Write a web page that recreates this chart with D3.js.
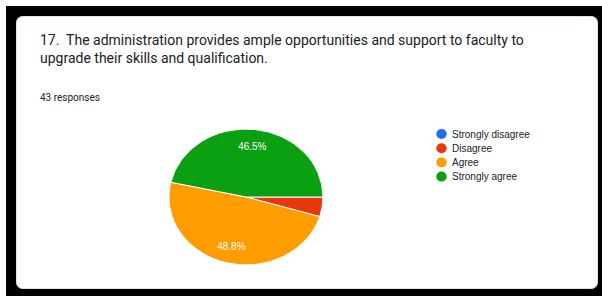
<!DOCTYPE html>
<html>
<head>
<meta charset="utf-8">
<script src="https://cdn.jsdelivr.net/npm/d3@7"></script>
<style>
  html, body { margin: 0; padding: 0; background: #fff; }
  svg { display: block; }
  text { white-space: pre; }
</style>
</head>
<body>
<svg id="chart" width="602" height="296"></svg>
<script>
const categories = ["Strongly disagree", "Disagree", "Agree", "Strongly agree"];
const counts = [0, 2, 21, 20];
const colors = ["#1f6ff0", "#e8380e", "#ff9c00", "#0b9f12"];
const titleLines = [
  "17.  The administration provides ample opportunities and support to faculty to",
  "upgrade their skills and qualification."
];
const responsesLabel = "43 responses";

const svg = d3.select("#chart");

// outer black frame and card
svg.append("rect").attr("x", 6).attr("y", 6).attr("width", 596).attr("height", 290).attr("fill", "#000");
svg.append("rect").attr("x", 16.5).attr("y", 16.5).attr("width", 581).attr("height", 272)
  .attr("rx", 6).attr("fill", "#fff").attr("stroke", "#eadbe6").attr("stroke-width", 1);

// title
const title = svg.append("text")
  .attr("font-family", "Roboto, 'Open Sans', sans-serif")
  .attr("font-size", 14)
  .attr("fill", "#202124");
titleLines.forEach((t, i) => {
  title.append("tspan").attr("x", 40).attr("y", 45 + i * 18).text(t);
});

svg.append("text")
  .attr("x", 40).attr("y", 101)
  .attr("font-family", "Roboto, sans-serif")
  .attr("font-size", 10)
  .attr("fill", "#202124")
  .text(responsesLabel);

// pie (drawn as ellipse via x-scaling)
const cx = 246, cy = 197, ry = 68, rx = 77;
const sx = rx / ry;
const total = d3.sum(counts);
const pie = d3.pie().sort(null).value(d => d)
  .startAngle(Math.PI / 2).endAngle(Math.PI / 2 + 2 * Math.PI);
const arcs = pie(counts);
const arc = d3.arc().innerRadius(0).outerRadius(ry);
const labelArc = d3.arc().innerRadius(ry * 0.75).outerRadius(ry * 0.75);

const g = svg.append("g").attr("transform", `translate(${cx},${cy}) scale(${sx},1)`);
g.selectAll("path").data(arcs.filter(a => a.value > 0)).join("path")
  .attr("d", arc)
  .attr("fill", d => colors[d.index])
  .attr("stroke", "#fff")
  .attr("stroke-width", 1)
  .attr("vector-effect", "non-scaling-stroke");

const lg = svg.append("g").attr("transform", `translate(${cx},${cy})`);
arcs.filter(a => a.value / total > 0.1).forEach(a => {
  const c = labelArc.centroid(a);
  lg.append("text")
    .attr("x", c[0] * sx).attr("y", c[1] + 3.5)
    .attr("text-anchor", "middle")
    .attr("font-family", "'Liberation Sans', Arial, sans-serif")
    .attr("font-size", 10)
    .attr("fill", "#fff")
    .text(d3.format(".1%")(a.value / total));
});

// legend
const legend = svg.append("g");
categories.forEach((c, i) => {
  const y = 134 + i * 14.2;
  legend.append("ellipse").attr("cx", 441.5).attr("cy", y).attr("rx", 5.2).attr("ry", 5)
    .attr("fill", colors[i]);
  legend.append("text").attr("x", 452).attr("y", y + 3.6)
    .attr("font-family", "'Liberation Sans', Arial, sans-serif")
    .attr("font-size", 10)
    .attr("fill", "#222")
    .text(c);
});
</script>
</body>
</html>
